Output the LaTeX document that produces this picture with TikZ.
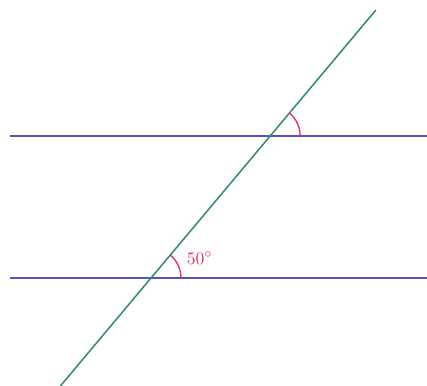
\documentclass[tikz,border=0pt]{standalone}
\definecolor{parline}{RGB}{88,80,200}
\definecolor{transv}{RGB}{44,140,104}
\definecolor{angmark}{RGB}{232,44,90}
\usepackage{tikz}
\usetikzlibrary{calc}

\begin{document}
\begin{tikzpicture}[x=0.02cm, y=0.02cm,
    parallel/.style={parline, line width=1.1pt},
    transversal/.style={transv, line width=0.85pt},
    anglearc/.style={angmark, line width=0.75pt}]
  \useasboundingbox (0,0) rectangle (427,386);
  % the two parallel lines
  \coordinate (upW) at (10,250);
  \coordinate (upE) at (427,250);
  \coordinate (loW) at (10,108);
  \coordinate (loE) at (427,108);
  \draw[parallel] (upW) -- (upE);
  \draw[parallel] (loW) -- (loE);
  % transversal and its crossing points
  \coordinate (lowX) at (151,108);
  \coordinate (upX) at (270.2,250);
  \coordinate (tEnd) at (375.9,376);
  \coordinate (bEnd) at (60.4,0);
  \draw[transversal] (bEnd) -- (tEnd);
  % angle marks
  \draw[anglearc] ($(lowX)+(30,0)$) arc (0:50:30);
  \draw[anglearc] ($(upX)+(30,0)$) arc (0:50:30);
  \node[text=angmark, anchor=west, inner sep=0pt] (lbl) at (186.5,128) {$50^\circ$};
\end{tikzpicture}
\end{document}
